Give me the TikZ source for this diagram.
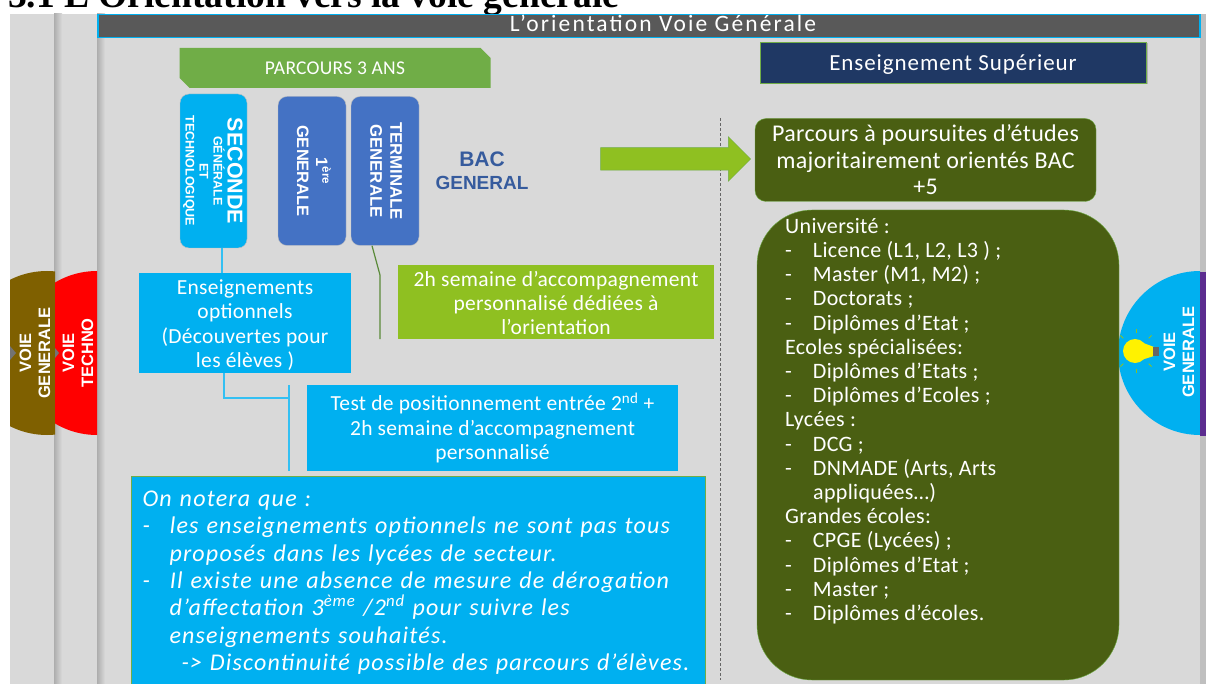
\documentclass[tikz,border=0pt]{standalone}
\usepackage{amsmath}
\usepackage{fontspec}
\setmainfont[LetterSpace=1.5]{Carlito}
\newfontfamily\bandfont[LetterSpace=9]{Carlito}
\newfontfamily\widefont[LetterSpace=4]{Carlito}
\newfontfamily\notefont[LetterSpace=5]{Carlito}
\newfontfamily\headfont{Liberation Serif}
\newfontfamily\boldfont{Liberation Sans}
\usetikzlibrary{shapes.arrows,shapes.misc,shadows}
\definecolor{panelgray}{HTML}{D9D9D9}
\definecolor{bandgray}{HTML}{595959}
\definecolor{skyblue}{HTML}{00B0F0}
\definecolor{midblue}{HTML}{4472C4}
\definecolor{leafgreen}{HTML}{70AD47}
\definecolor{limegreen}{HTML}{8FC021}
\definecolor{olivedark}{HTML}{4A5F12}
\definecolor{navyblue}{HTML}{1F3864}
\definecolor{brownvoie}{HTML}{7F6000}
\definecolor{purplevoie}{HTML}{5B2C8F}

\begin{document}
\begin{tikzpicture}[x=1pt, y=-1pt,
		box_style/.style={fill=skyblue,text=white,align=center,inner sep=0pt,font=\fontsize{21.5}{24.4}\selectfont},
		year_style/.style={rounded corners=9pt,draw=black!25,inner sep=0pt},
		vert_style/.style={rotate=-90,text=white,align=center,font=\boldfont\bfseries},
		disc_style/.style={rotate=90,text=white,align=center,font=\boldfont\bfseries\fontsize{16.5}{19}\selectfont},
		olive_style/.style={fill=olivedark,text=white},
		link_style/.style={draw=skyblue!80!white,line width=1.4pt}]

		\useasboundingbox (0,0) rectangle (1206,684);
		\clip (0,0) rectangle (1206,684);

		% background and strips
		\fill[panelgray] (10,14) rectangle (1200,684);
		\fill[black!25] (1200,14) rectangle (1206,684);
		\shade[left color=black!32,right color=panelgray] (54,14) rectangle (62,684);
		\shade[left color=black!32,right color=panelgray] (97,14) rectangle (105,684);
		\node[anchor=base west,inner sep=0pt,font=\headfont\bfseries\fontsize{37.5}{37.5}\selectfont] (title) at (8,8) {3.1 L’Orientation vers la voie générale};
		\node[draw=skyblue,line width=1.2pt,fill=bandgray,text=white,minimum width=1102pt,minimum height=23pt,inner sep=0pt,text depth=4pt,text height=15pt,font=\bandfont\fontsize{23.5}{23.5}\selectfont] (band) at (649,26) {\hspace{28pt}L’orientation Voie Générale};

		% half discs
		\begin{scope}
			\clip (10,260) rectangle (55,450);
			\fill[brownvoie] (47,353) circle (82);
		\end{scope}
		\begin{scope}
			\clip (55,260) rectangle (97,450);
			\fill[red] (97,353) circle (82);
		\end{scope}
		\begin{scope}
			\clip (1110,260) rectangle (1200,450);
			\fill[skyblue] (1200,353) circle (82);
		\end{scope}
		\fill[purplevoie] (1200,272) rectangle (1206,436);
		\fill[black!55] (10,346) -- (16,353) -- (10,360) -- cycle;
		\fill[black!55] (55,348) -- (59,353) -- (55,358) -- cycle;
		\node[disc_style] (vg_left) at (35,353) {VOIE\\GENERALE};
		\node[disc_style] (vt_left) at (78,353) {VOIE\\TECHNO};
		\node[disc_style] (vg_right) at (1179,352) {VOIE\\GENERALE};

		% bulb
		\fill[yellow] (1135,351) circle (12);
		\fill[yellow] (1138,341) -- (1154,347) -- (1154,356) -- (1138,361) -- cycle;
		\fill[black!60] (1153,347) rectangle (1159,356);
		\foreach \angle in {45,90,135,225,270,315}
			\draw[limegreen,line width=1pt] (1136,351) ++(\angle:18) -- ++(\angle:4);

		% year boxes
		\node[fill=leafgreen,chamfered rectangle,chamfered rectangle corners={north east,south west},chamfered rectangle xsep=5pt,chamfered rectangle ysep=5pt,minimum width=311pt,minimum height=40pt,inner sep=0pt,text=white,font=\fontsize{19.5}{19.5}\selectfont] (parcours) at (335,68) {PARCOURS 3 ANS};
		\node[year_style,fill=skyblue,minimum width=67pt,minimum height=154pt] (seconde) at (213.5,171) {};
		\node[year_style,fill=midblue,minimum width=68pt,minimum height=149pt] (premiere) at (312,171) {};
		\node[year_style,fill=midblue,minimum width=68pt,minimum height=149pt] (terminale) at (385,171) {};
		\node[vert_style,font=\boldfont\bfseries\fontsize{12.5}{14}\selectfont] (seconde_txt) at (213,171) {\fontsize{21.5}{18}\selectfont SECONDE\\\fontsize{12.5}{14}\selectfont GÉNÉRALE\\ET\\TECHNOLOGIQUE};
		\node[vert_style,font=\boldfont\bfseries\fontsize{16.5}{19}\selectfont] (premiere_txt) at (314,171) {1\textsuperscript{ère}\\GENERALE};
		\node[vert_style,font=\boldfont\bfseries\fontsize{16.8}{20}\selectfont] (terminale_txt) at (386,171) {TERMINALE\\GENERALE};
		\node[text=midblue!80!black,align=center,font=\boldfont\bfseries\fontsize{19}{23}\selectfont] (bac) at (482,171) {\fontsize{21}{23}\selectfont BAC\\\fontsize{19}{23}\selectfont GENERAL};

		% blue and green notes
		\node[box_style,minimum width=212pt,minimum height=100pt] (options) at (245,323) {\rule{0pt}{19pt}Enseignements\\optionnels\\(Découvertes pour\\les élèves )};
		\node[box_style,minimum width=371pt,minimum height=86pt] (test) at (492.5,428) {Test de positionnement entrée 2\textsuperscript{nd} +\\2h semaine d’accompagnement\\personnalisé};
		\node[fill=limegreen,text=white,align=center,inner sep=0pt,minimum width=316pt,minimum height=74pt,font=\fontsize{21.5}{24.4}\selectfont] (accomp) at (556,302) {\rule{0pt}{17pt}2h semaine d’accompagnement\\personnalisé dédiées à\\l’orientation};
		\node[box_style,draw=leafgreen,line width=1pt,minimum height=208pt,align=left,anchor=north west,inner xsep=11pt,font=\notefont\itshape\fontsize{24}{27.3}\selectfont,text width=552pt] (note) at (131,476) {\rule{0pt}{20pt}On notera que :\\
			-\hspace{20pt}les enseignements optionnels ne sont pas tous\\
			\hspace*{27pt}proposés dans les lycées de secteur.\\
			-\hspace{20pt}Il existe une absence de mesure de dérogation\\
			\hspace*{27pt}d’affectation 3\textsuperscript{ème} /2\textsuperscript{nd} pour suivre les\\
			\hspace*{27pt}enseignements souhaités.\\
			\hspace*{39pt}-> Discontinuité possible des parcours d’élèves.};

		% right column
		\node[draw=leafgreen,line width=.8pt,fill=navyblue,text=white,drop shadow={shadow xshift=1.5pt,shadow yshift=-1.5pt,opacity=.45},minimum width=386pt,minimum height=41pt,inner sep=0pt,text height=21pt,text depth=5pt,font=\widefont\fontsize{23}{23}\selectfont] (superieur) at (953,62.5) {Enseignement Supérieur};
		\node[olive_style,draw=leafgreen,rounded corners=11pt,align=center,minimum width=341pt,minimum height=83pt,inner sep=0pt,font=\fontsize{24}{26.5}\selectfont] (poursuites) at (925.5,160) {Parcours à poursuites d’études\\majoritairement orientés BAC\\+5};
		\node[olive_style,draw=leafgreen,rounded corners=55pt,minimum width=362pt,minimum height=470pt,inner sep=0pt] (etudes) at (938,445) {};
		\node[anchor=north west,inner sep=0pt,text=white,align=left,font=\fontsize{22}{24.2}\selectfont] (etudes_txt) at (785,218) {Université :\\
			-\hspace{21pt}Licence (L1, L2, L3 ) ;\\
			-\hspace{21pt}Master (M1, M2) ;\\
			-\hspace{21pt}Doctorats ;\\
			-\hspace{21pt}Diplômes d’Etat ;\\
			Ecoles spécialisées:\\
			-\hspace{21pt}Diplômes d’Etats ;\\
			-\hspace{21pt}Diplômes d’Ecoles ;\\
			Lycées :\\
			-\hspace{21pt}DCG ;\\
			-\hspace{21pt}DNMADE (Arts, Arts\\
			\hspace*{28pt}appliquées…)\\
			Grandes écoles:\\
			-\hspace{21pt}CPGE (Lycées) ;\\
			-\hspace{21pt}Diplômes d’Etat ;\\
			-\hspace{21pt}Master ;\\
			-\hspace{21pt}Diplômes d’écoles.};

		% connectors
		\coordinate (c1) at (224,398);
		\coordinate (c2) at (289,398);
		\coordinate (c3) at (289,385);
		\coordinate (c4) at (289,471);
		\coordinate (c5) at (380,275);
		\coordinate (c6) at (380,339);
		\coordinate (c7) at (720,118);
		\coordinate (c8) at (720,680);
		\draw[link_style] (seconde.south -| 222,0) -- (options.north -| 222,0);
		\draw[link_style] (options.south -| c1) -- (c1) -- (c2);
		\draw[link_style] (c3) -- (c4);
		\draw[draw=leafgreen!80!black,line width=1.2pt] (terminale.south -| 372,0) -- (c5) -- (c6);
		\draw[black!60,densely dashed,line width=.7pt] (c7) -- (c8);
		\node[single arrow,fill=limegreen,draw=leafgreen,line width=.5pt,minimum height=150pt,inner xsep=0pt,inner ysep=11pt,single arrow head extend=11pt,single arrow tip angle=90] (bigarrow) at (670,159) {};
\end{tikzpicture}
\end{document}
